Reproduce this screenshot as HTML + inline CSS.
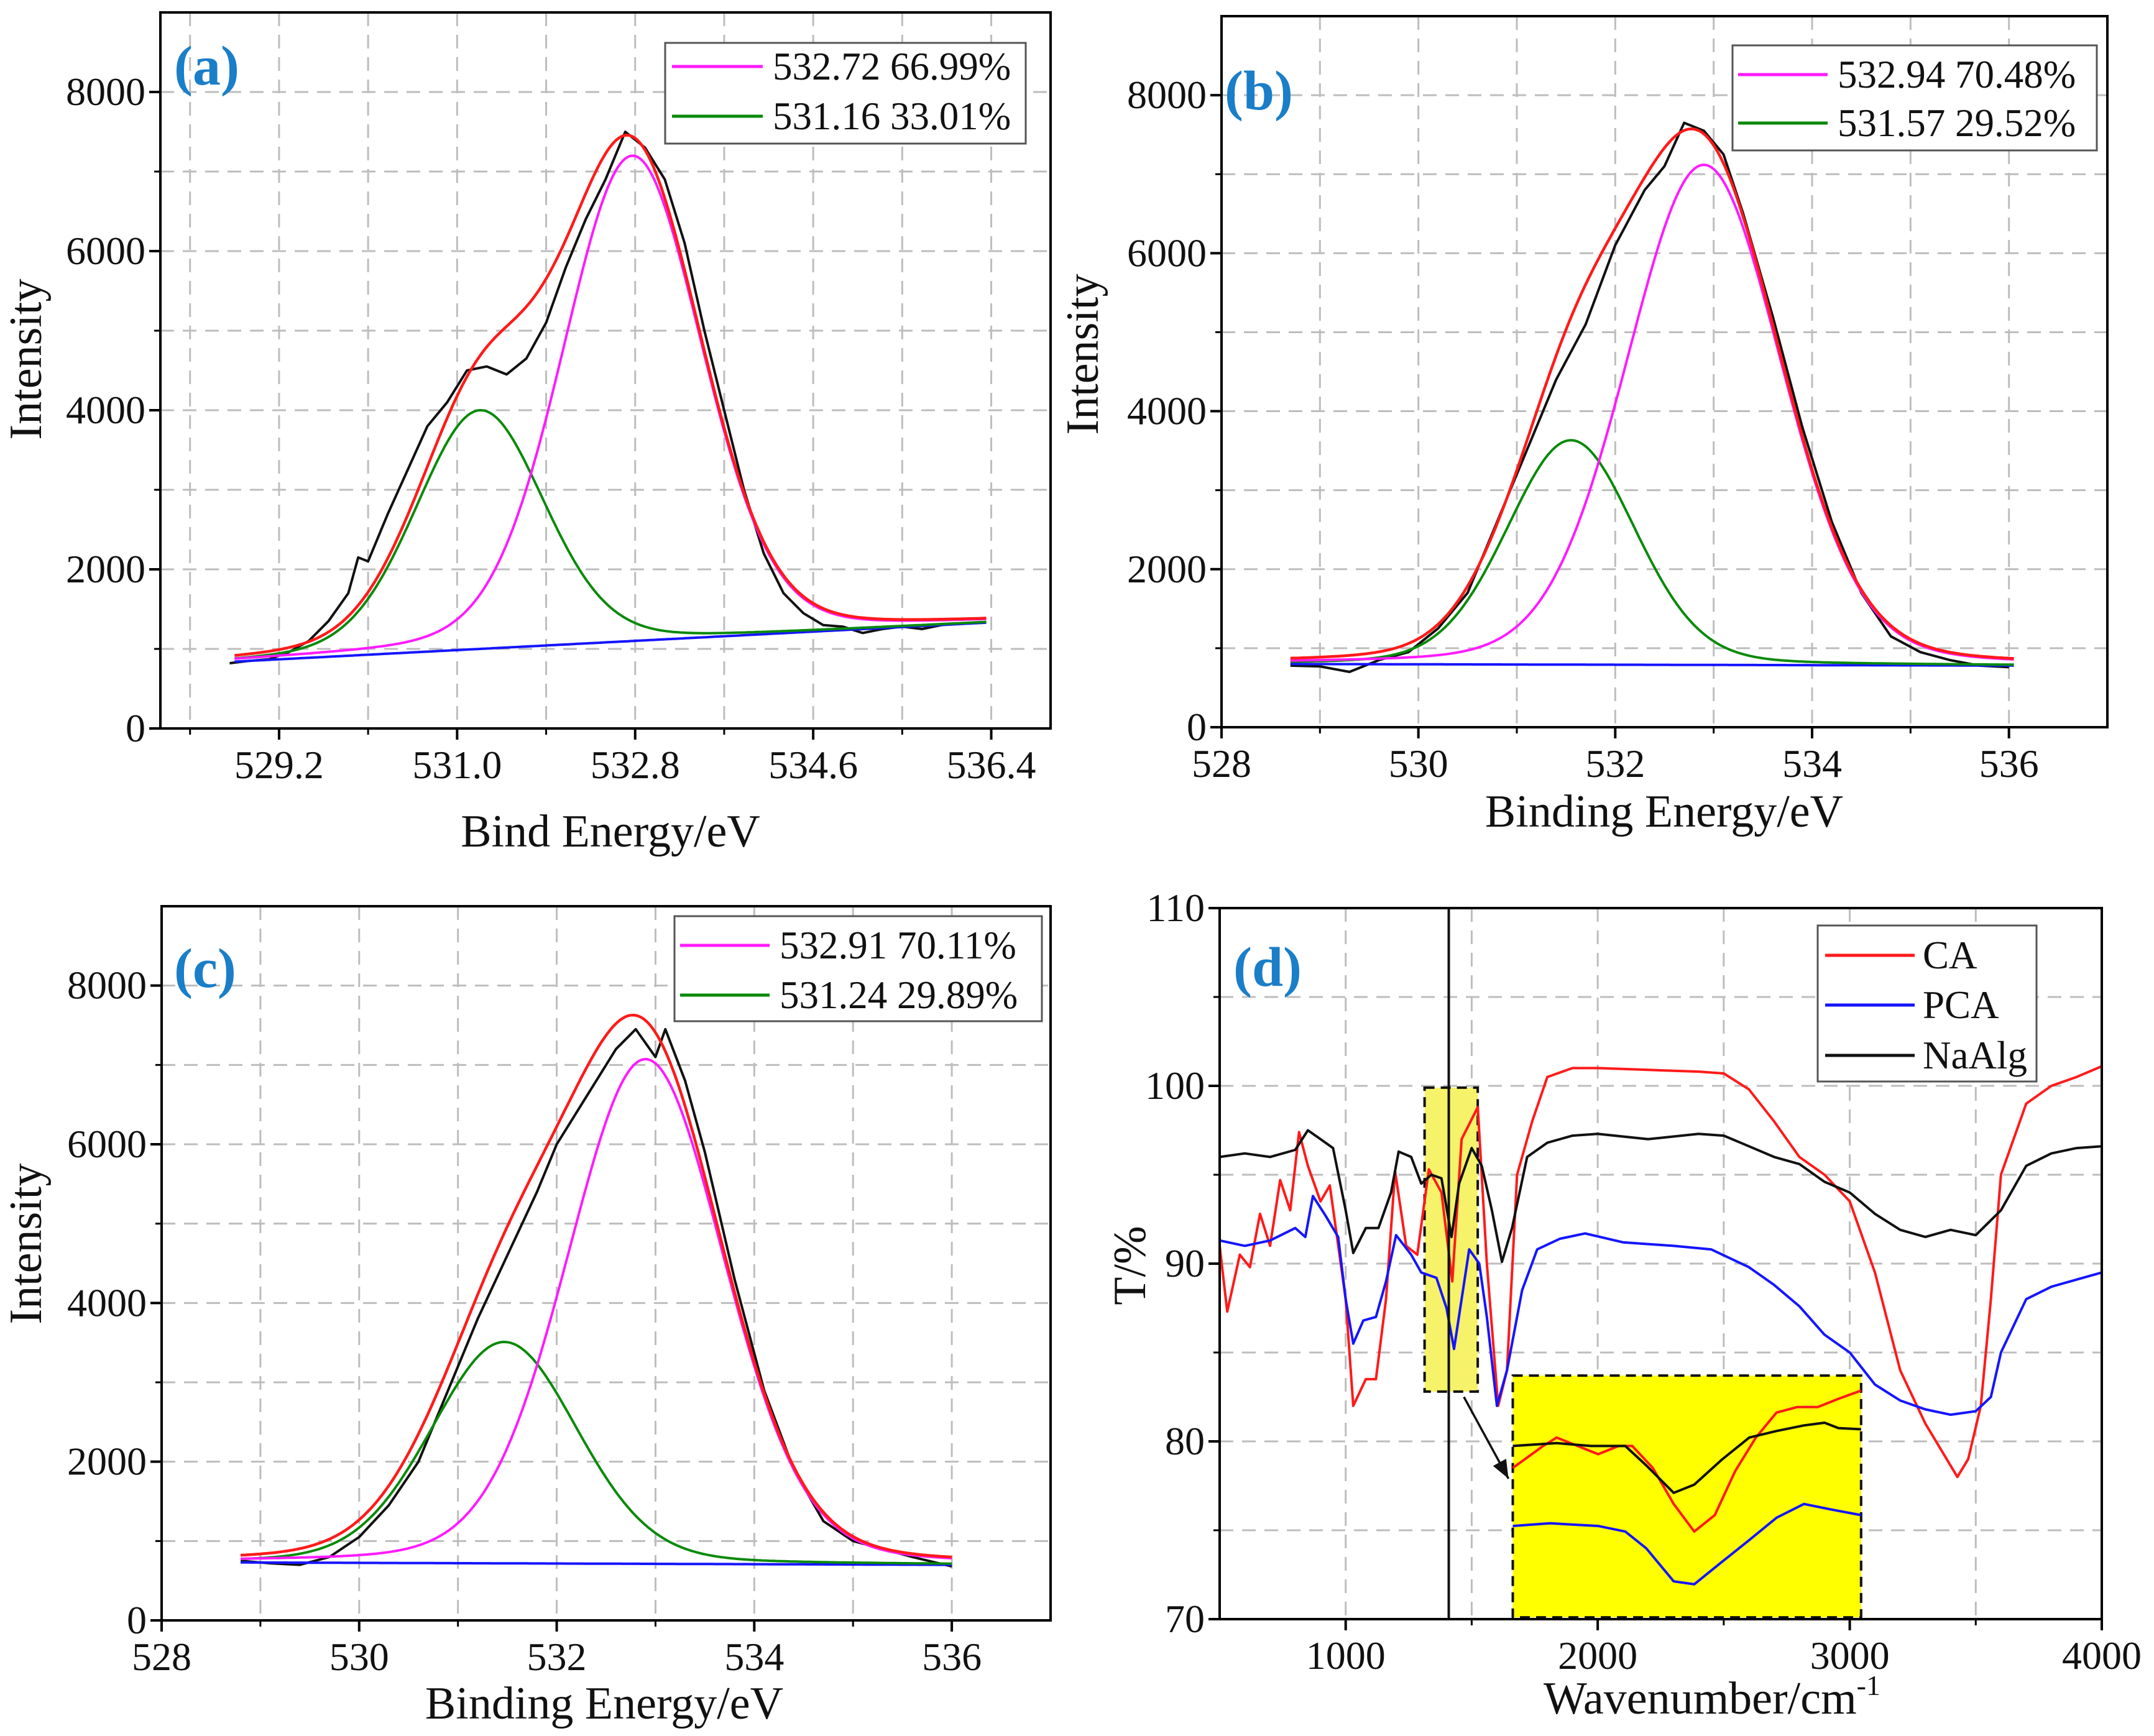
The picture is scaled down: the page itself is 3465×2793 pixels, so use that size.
<!DOCTYPE html>
<html><head><meta charset="utf-8">
<style>
html,body{margin:0;padding:0;background:#fff;}
svg{display:block;font-family:"Liberation Serif","Times New Roman",serif;}
text{font-family:"Liberation Serif","Times New Roman",serif;}
</style></head>
<body>
<svg id="fig" width="3465" height="2793" viewBox="0 0 3465 2793" xmlns="http://www.w3.org/2000/svg" font-family="Liberation Serif, serif">
<rect x="0" y="0" width="3465" height="2793" fill="#fff"/>
</svg>
<script>
// ---------- Panel (a) data ----------
const aPeakCenters=[532.77,531.23];
const aPeakAmps=[6100,3000];
const aPeakFwhm=[1.66,1.53];
const aBaseX=[528.75,536.35];
const aBaseY=[840,1330];
const aExpX=[528.7,528.9,529.1,529.3,529.5,529.7,529.9,530.0,530.1,530.3,530.5,530.7,530.9,531.1,531.3,531.5,531.7,531.9,532.1,532.3,532.5,532.7,532.9,533.1,533.3,533.5,533.7,533.9,534.1,534.3,534.5,534.7,534.9,535.1,535.3,535.5,535.7,535.9,536.1,536.3];
const aExpY=[820,850,870,960,1100,1350,1700,2150,2100,2700,3250,3800,4100,4500,4550,4450,4650,5100,5800,6400,6900,7500,7300,6900,6100,5000,4000,3000,2200,1700,1450,1300,1280,1200,1250,1280,1250,1300,1320,1330];
const aXTicks=[529.2,531.0,532.8,534.6,536.4];
const aXTickLabels=["529.2","531.0","532.8","534.6","536.4"];
const aLegend=["532.72 66.99%","531.16 33.01%"];
// ---------- Panel (b) data ----------
const bPeakCenters=[532.9,531.55];
const bPeakAmps=[6330,2840];
const bPeakFwhm=[1.86,1.54];
const bBaseX=[528.7,536.05];
const bBaseY=[800,780];
const bExpX=[528.7,529.0,529.3,529.6,529.9,530.2,530.5,530.8,531.1,531.4,531.7,532.0,532.3,532.5,532.7,532.9,533.1,533.3,533.6,533.9,534.2,534.5,534.8,535.1,535.4,535.7,536.0];
const bExpY=[780,770,700,850,950,1250,1700,2600,3500,4400,5100,6100,6800,7100,7650,7550,7250,6500,5200,3800,2600,1700,1150,950,850,780,760];
const bXTicks=[528,530,532,534,536];
const bXTickLabels=["528","530","532","534","536"];
const bLegend=["532.94 70.48%","531.57 29.52%"];
// ---------- Panel (c) data ----------
const cPeakCenters=[532.9,531.47];
const cPeakAmps=[6360,2790];
const cPeakFwhm=[1.88,1.75];
const cBaseX=[528.8,536.0];
const cBaseY=[730,700];
const cExpX=[528.8,529.1,529.4,529.7,530.0,530.3,530.6,530.9,531.2,531.5,531.8,532.0,532.3,532.6,532.8,533.0,533.1,533.3,533.5,533.8,534.1,534.4,534.7,535.0,535.3,535.6,536.0];
const cExpY=[750,720,700,800,1050,1450,2000,2900,3800,4600,5400,6000,6600,7200,7450,7100,7450,6800,5900,4300,2900,1900,1250,1000,900,800,680];
const cXTicks=[528,530,532,534,536];
const cXTickLabels=["528","530","532","534","536"];
const cLegend=["532.91 70.11%","531.24 29.89%"];
const xpsYTicks=[0,2000,4000,6000,8000];
const xpsYTickLabels=["0","2000","4000","6000","8000"];
// ---------- Panel (d) data ----------
const caX=[500,530,580,620,660,700,740,780,815,850,900,937,1000,1030,1080,1120,1160,1196,1240,1284,1330,1380,1423,1460,1524,1560,1605,1640,1680,1740,1800,1900,2000,2200,2400,2500,2600,2700,2800,2900,3000,3100,3200,3300,3427,3470,3520,3560,3600,3700,3800,3900,4000];
const caY=[91,87.3,90.5,89.8,92.8,91,94.7,93,97.4,95.5,93.5,94.4,88,82,83.5,83.5,88,95.2,91,90.5,95.3,94,89,97,98.8,90,82,84,95,98,100.5,101,101,100.9,100.8,100.7,99.8,98,96,95,93.5,89.5,84,81,78,79,82,88,95,99,100,100.5,101.1];
const pcaX=[500,600,700,800,840,870,920,970,1000,1030,1070,1120,1160,1200,1260,1300,1360,1400,1430,1460,1490,1530,1560,1600,1640,1700,1760,1850,1950,2100,2300,2450,2600,2700,2800,2900,3000,3100,3200,3300,3400,3500,3560,3600,3700,3800,3900,4000];
const pcaY=[91.3,91,91.3,92,91.5,93.8,92.7,91.5,88,85.5,86.8,87,89,91.6,90.5,89.5,89.2,87.5,85.2,88,90.8,90,87,82,84,88.5,90.8,91.4,91.7,91.2,91,90.8,89.8,88.8,87.6,86,85,83.2,82.3,81.8,81.5,81.7,82.5,85,88,88.7,89.1,89.5];
const algX=[500,600,700,800,850,900,950,1000,1030,1080,1130,1180,1210,1260,1300,1340,1380,1420,1450,1500,1540,1580,1620,1660,1720,1800,1900,2000,2200,2400,2500,2600,2700,2800,2900,3000,3100,3200,3300,3400,3500,3600,3700,3800,3900,4000];
const algY=[96,96.2,96,96.4,97.5,97,96.5,93,90.6,92,92,94,96.3,96,94.5,95,94.8,91.5,94.5,96.5,95.5,93,90.1,92,96,96.8,97.2,97.3,97,97.3,97.2,96.6,96,95.6,94.6,94,92.8,91.9,91.5,91.9,91.6,93,95.5,96.2,96.5,96.6];
const dXTicks=[1000,2000,3000,4000];
const dXTickLabels=["1000","2000","3000","4000"];
const dYTicks=[70,80,90,100,110];
const dYTickLabels=["70","80","90","100","110"];
const dLegend=["CA","PCA","NaAlg"];
// inset (zoom of 1313-1524 cm-1 region), normalized inset units
const insetRedU=[0,.087,.126,.205,.245,.304,.343,.402,.462,.521,.58,.639,.698,.757,.817,.876,.935,1];
const insetRedV=[.382,.291,.256,.302,.325,.291,.291,.382,.531,.645,.577,.394,.256,.153,.130,.130,.096,.062];
const insetBlackU=[0,.126,.225,.323,.383,.462,.521,.6,.679,.757,.836,.895,.935,1];
const insetBlackV=[.291,.279,.291,.291,.371,.485,.451,.348,.256,.229,.206,.195,.217,.222];
const insetBlueU=[0,.107,.245,.323,.383,.462,.521,.6,.679,.757,.836,.915,1];
const insetBlueV=[.622,.611,.622,.645,.714,.851,.863,.771,.680,.588,.531,.554,.577];
const insetRange=[1663,3045,70.1,83.7];
const smallBoxRange=[1313,1524,82.8,99.9];
const markerLineX=1409;

// ---------- drawing ----------
const NS="http://www.w3.org/2000/svg";
const svg=document.getElementById('fig');
const FONT='"Liberation Serif", "Times New Roman", serif';
function mk(tag,attrs,parent){const e=document.createElementNS(NS,tag);for(const k in attrs)e.setAttribute(k,attrs[k]);(parent||svg).appendChild(e);return e;}
function txt(s,attrs,parent){const e=mk('text',attrs,parent);e.setAttribute('font-family',FONT);e.style.fontFamily=FONT;e.textContent=s;return e;}
function pv(x,c,a,f){const hw=f/2;const d=x-c;const g=Math.exp(-Math.LN2*(d/hw)*(d/hw));const l=1/(1+(d/hw)*(d/hw));return a*(0.85*g+0.15*l);}
function makeAxes(L,R,T,B,x0,x1,y0,y1){return {sx:v=>L+(v-x0)/(x1-x0)*(R-L),sy:v=>B-(v-y0)/(y1-y0)*(B-T)};}
function pathFrom(xs,ys,ax){return xs.map((x,i)=>(i?'L':'M')+ax.sx(x).toFixed(1)+' '+ax.sy(ys[i]).toFixed(1)).join(' ');}

function drawFrameGrid(g,geo,ax,vgrid,hgrid){
  vgrid.forEach(v=>{const l=mk('line',{x1:ax.sx(v),x2:ax.sx(v),y1:geo.T,y2:geo.B,stroke:'#bdbdbd','stroke-width':3,'stroke-dasharray':'22 14'},g);
    });
  hgrid.forEach(v=>{const l=mk('line',{x1:geo.L,x2:geo.R,y1:ax.sy(v),y2:ax.sy(v),stroke:'#bdbdbd','stroke-width':3,'stroke-dasharray':'22 14'},g);
    });
}
function drawFrame(g,geo){const r=mk('rect',{x:geo.L,y:geo.T,width:geo.R-geo.L,height:geo.B-geo.T,fill:'none',stroke:'#000','stroke-width':4},g);
  }
function drawTicks(g,geo,ax,xt,xl,minorX,yt,yl,minorY){
  xt.forEach((v,i)=>{const l=mk('line',{x1:ax.sx(v),x2:ax.sx(v),y1:geo.B,y2:geo.B+18,stroke:'#000','stroke-width':4},g);
    
    const t=txt(xl[i],{x:ax.sx(v),y:geo.B+80,'font-size':64,'text-anchor':'middle',fill:'#111'},g);
    });
  minorX.forEach(v=>{const l=mk('line',{x1:ax.sx(v),x2:ax.sx(v),y1:geo.B,y2:geo.B+10,stroke:'#000','stroke-width':3},g);
    });
  yt.forEach((v,i)=>{const l=mk('line',{x1:geo.L-18,x2:geo.L,y1:ax.sy(v),y2:ax.sy(v),stroke:'#000','stroke-width':4},g);
    
    const t=txt(yl[i],{x:geo.L-24,y:ax.sy(v)+21,'font-size':64,'text-anchor':'end',fill:'#111'},g);
    });
  minorY.forEach(v=>{const l=mk('line',{x1:geo.L-10,x2:geo.L,y1:ax.sy(v),y2:ax.sy(v),stroke:'#000','stroke-width':3},g);
    });
}
function curve(g,d,color,name,w){const p=mk('path',{d:d,fill:'none',stroke:color,'stroke-width':w||4,'stroke-linejoin':'round'},g);
  return p;}

function xpsPanel(id,geo,x0,x1,centers,amps,fwhm,baseX,baseY,expX,expY,xt,xl,vgrid,minorX,legend,leg,lab,xTitle,xTitlePos,yTitlePos){
  const g=mk('g',{});
  
  const ax=makeAxes(geo.L,geo.R,geo.T,geo.B,x0,x1,0,9000);
  drawFrameGrid(g,geo,ax,vgrid,[1000,2000,3000,4000,5000,6000,7000,8000]);
  const base=x=>baseY[0]+(x-baseX[0])/(baseX[1]-baseX[0])*(baseY[1]-baseY[0]);
  const N=300;const xs=[];for(let i=0;i<=N;i++)xs.push(baseX[0]+(baseX[1]-baseX[0])*i/N);
  const blue=xs.map(base);
  const mag=xs.map(x=>base(x)+pv(x,centers[0],amps[0],fwhm[0]));
  const grn=xs.map(x=>base(x)+pv(x,centers[1],amps[1],fwhm[1]));
  const red=xs.map(x=>base(x)+pv(x,centers[0],amps[0],fwhm[0])+pv(x,centers[1],amps[1],fwhm[1]));
  curve(g,pathFrom(expX,expY,ax),'#111','experimental-data-line',4);
  curve(g,pathFrom(xs,blue,ax),'#1515ff','baseline-line',4);
  curve(g,pathFrom(xs,grn,ax),'#0a8a0a','peak-2-fit-line',4);
  curve(g,pathFrom(xs,mag,ax),'#ff1aff','peak-1-fit-line',4);
  curve(g,pathFrom(xs,red,ax),'#ff1a1a','envelope-fit-line',4.5);
  drawFrame(g,geo);
  drawTicks(g,geo,ax,xt,xl,minorX,xpsYTicks,xpsYTickLabels,[1000,3000,5000,7000]);
  const lg=mk('g',{},g);
  const br=mk('rect',{x:leg.x,y:leg.y,width:leg.w,height:leg.h,fill:'#fff',stroke:'#555','stroke-width':3},lg);
  
  const cols=['#ff1aff','#0a8a0a'];
  legend.forEach((s,i)=>{const yy=leg.rows[i];
    const l=mk('line',{x1:leg.lx0,x2:leg.lx1,y1:yy,y2:yy,stroke:cols[i],'stroke-width':5},lg);
    
    const t=txt(s,{x:leg.tx,y:yy+21,'font-size':63,fill:'#111'},lg);
    });
  const pl=txt(lab.s,{x:lab.x,y:lab.y,'font-size':90,'font-weight':'bold',fill:'#1a7ec8'},g);
  
  const xtl=txt(xTitle,{x:xTitlePos[0],y:xTitlePos[1],'font-size':74,'text-anchor':'middle',fill:'#111'},g);
  
  const ytl=txt('Intensity',{x:0,y:0,'font-size':74,'text-anchor':'middle',fill:'#111',transform:`translate(${yTitlePos[0]},${yTitlePos[1]}) rotate(-90)`},g);
  
}

const range=(a,b,s)=>{const r=[];for(let v=a;v<=b+1e-9;v+=s)r.push(+v.toFixed(3));return r;};
xpsPanel('a',{L:258,R:1690,T:20,B:1172},528,537,aPeakCenters,aPeakAmps,aPeakFwhm,aBaseX,aBaseY,aExpX,aExpY,aXTicks,aXTickLabels,
  range(528.3,536.4,0.9),[528.3,530.1,531.9,533.7,535.5],aLegend,
  {x:1070,y:69,w:580,h:162,rows:[107,187],lx0:1081,lx1:1227,tx:1243},{s:'(a)',x:280,y:136},'Bind Energy/eV',[982,1362],[66,578]);
xpsPanel('b',{L:1965,R:3390,T:26,B:1170},528,537,bPeakCenters,bPeakAmps,bPeakFwhm,bBaseX,bBaseY,bExpX,bExpY,bXTicks,bXTickLabels,
  range(529,536,1),[529,531,533,535],bLegend,
  {x:2787,y:73,w:586,h:169,rows:[120,198],lx0:2796,lx1:2940,tx:2956},{s:'(b)',x:1970,y:176},'Binding Energy/eV',[2677,1330],[1766,570]);
xpsPanel('c',{L:260,R:1690,T:1458,B:2607},528,537,cPeakCenters,cPeakAmps,cPeakFwhm,cBaseX,cBaseY,cExpX,cExpY,cXTicks,cXTickLabels,
  range(529,536,1),[529,531,533,535],cLegend,
  {x:1085,y:1474,w:591,h:169,rows:[1521,1601],lx0:1094,lx1:1238,tx:1254},{s:'(c)',x:280,y:1588},'Binding Energy/eV',[972,2765],[66,2001]);

// ---------- Panel (d) ----------
(function(){
  const geo={L:1962,R:3381,T:1461,B:2605};
  const g=mk('g',{});
  const ax=makeAxes(geo.L,geo.R,geo.T,geo.B,500,4000,70,110);
  drawFrameGrid(g,geo,ax,[1000,1500,2000,2500,3000,3500],[75,80,85,90,95,100,105]);
  const sb=mk('rect',{x:ax.sx(smallBoxRange[0]),y:ax.sy(smallBoxRange[3]),width:ax.sx(smallBoxRange[1])-ax.sx(smallBoxRange[0]),height:ax.sy(smallBoxRange[2])-ax.sy(smallBoxRange[3]),fill:'#f6f26a',stroke:'#111','stroke-width':4,'stroke-dasharray':'16 10'},g);
  
  curve(g,pathFrom(caX,caY,ax),'#ff1a1a','ca-line',4);
  curve(g,pathFrom(pcaX,pcaY,ax),'#1515ff','pca-line',4);
  curve(g,pathFrom(algX,algY,ax),'#111','naalg-line',4);
  const vl=mk('line',{x1:ax.sx(markerLineX),x2:ax.sx(markerLineX),y1:geo.T,y2:geo.B,stroke:'#111','stroke-width':4},g);
  
  const ix0=ax.sx(insetRange[0]),ix1=ax.sx(insetRange[1]),iy0=ax.sy(insetRange[3]),iy1=ax.sy(insetRange[2]);
  const ir=mk('rect',{x:ix0,y:iy0,width:ix1-ix0,height:iy1-iy0,fill:'#ffff00',stroke:'#111','stroke-width':4,'stroke-dasharray':'16 10'},g);
  
  const iax={sx:u=>ix0+u*(ix1-ix0),sy:v=>iy0+v*(iy1-iy0)};
  const ip=(U,V)=>U.map((u,i)=>(i?'L':'M')+iax.sx(u).toFixed(1)+' '+iax.sy(V[i]).toFixed(1)).join(' ');
  curve(g,ip(insetRedU,insetRedV),'#ff1a1a','inset-ca-line',4);
  curve(g,ip(insetBlackU,insetBlackV),'#111','inset-naalg-line',4);
  curve(g,ip(insetBlueU,insetBlueV),'#1515ff','inset-pca-line',4);
  const ax1=ax.sx(1469),ay1=ax.sy(82.5),ax2=ax.sx(1646),ay2=ax.sy(77.9);
  const ar=mk('line',{x1:ax1,y1:ay1,x2:ax2,y2:ay2,stroke:'#111','stroke-width':3.5},g);
  
  const ang=Math.atan2(ay2-ay1,ax2-ax1),hl=30,hw=12;
  const p1=[ax2-hl*Math.cos(ang)+hw*Math.sin(ang),ay2-hl*Math.sin(ang)-hw*Math.cos(ang)];
  const p2=[ax2-hl*Math.cos(ang)-hw*Math.sin(ang),ay2-hl*Math.sin(ang)+hw*Math.cos(ang)];
  const ah=mk('polygon',{points:`${ax2},${ay2} ${p1[0]},${p1[1]} ${p2[0]},${p2[1]}`,fill:'#111'},g);
  
  drawFrame(g,geo);
  drawTicks(g,geo,ax,dXTicks,dXTickLabels,[1500,2500,3500],dYTicks,dYTickLabels,[75,85,95,105]);
  const lg=mk('g',{},g);
  const br=mk('rect',{x:2924,y:1489,width:352,height:251,fill:'#fff',stroke:'#555','stroke-width':3},lg);
  
  const cols=['#ff1a1a','#1515ff','#111'];const rows=[1537,1617,1698];
  dLegend.forEach((s,i)=>{const l=mk('line',{x1:2936,x2:3080,y1:rows[i],y2:rows[i],stroke:cols[i],'stroke-width':5},lg);
    
    const t=txt(s,{x:3093,y:rows[i]+21,'font-size':63,fill:'#111'},lg);
    });
  const pl=txt('(d)',{x:1984,y:1586,'font-size':90,'font-weight':'bold',fill:'#1a7ec8'},g);
  
  const xt=txt('Wavenumber/cm',{x:2754,y:2757,'font-size':74,'text-anchor':'middle',fill:'#111'},g);
  
  const sup=mk('tspan',{dy:-30,'font-size':46},xt);sup.textContent='-1';
  const yt=txt('T/%',{x:0,y:0,'font-size':74,'text-anchor':'middle',fill:'#111',transform:'translate(1842,2036) rotate(-90)'},g);
  
})();
</script>
</body></html>
